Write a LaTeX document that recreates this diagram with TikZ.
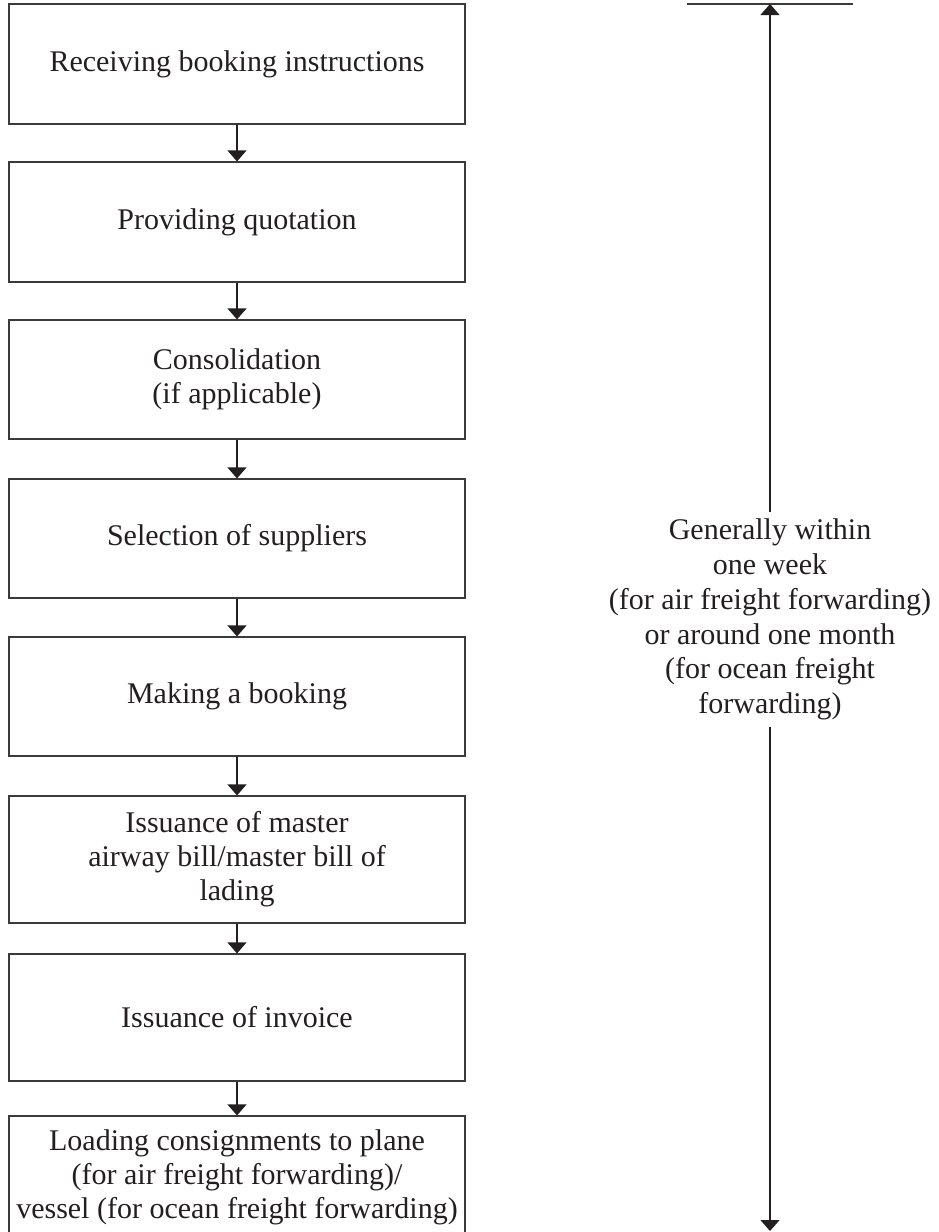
\documentclass[tikz,border=0pt]{standalone}
\usepackage{fontspec}
\setmainfont{Liberation Serif}
\usetikzlibrary{arrows.meta}
\definecolor{ink}{HTML}{231F20}
\definecolor{edge}{HTML}{3A3A3A}
\tikzset{
  box/.style={draw=edge, line width=0.6pt, minimum width=228pt, inner sep=0pt,
    align=center, text=ink, font=\fontsize{15}{17}\selectfont},
  flow/.style={draw=ink, line width=0.6pt, -{Triangle[width=9.5pt,length=5.5pt]}},
  note/.style={align=center, text=ink, inner sep=0pt, minimum height=107.5pt,
    font=\fontsize{15}{17.4}\selectfont},
}
\begin{document}
\begin{tikzpicture}[x=0.5pt,y=-0.5pt]
\useasboundingbox (0,0) rectangle (938,1232);
\clip (0,0) rectangle (938,1232);
\node[box, minimum height=60pt] (b1) at (237,64) {Receiving booking instructions};
\node[box, minimum height=60pt] (b2) at (237,222) {Providing quotation};
\node[box, minimum height=59.5pt] (b3) at (237,379.5) {Consolidation\\(if applicable)};
\node[box, minimum height=59.5pt] (b4) at (237,538.5) {Selection of suppliers};
\node[box, minimum height=59.5pt] (b5) at (237,696.5) {Making a booking};
\node[box, minimum height=63.5pt] (b6) at (237,859.5) {Issuance of master\\airway bill/master bill of\\lading};
\node[box, minimum height=63.5pt] (b7) at (237,1017.5) {Issuance of invoice};
\node[box, minimum height=61pt] (b8) at (237,1177) {Loading consignments to plane\\(for air freight forwarding)/\\vessel (for ocean freight forwarding)};
\draw[flow] (b1) -- (b2);
\draw[flow] (b2) -- (b3);
\draw[flow] (b3) -- (b4);
\draw[flow] (b4) -- (b5);
\draw[flow] (b5) -- (b6);
\draw[flow] (b6) -- (b7);
\draw[flow] (b7) -- (b8);
\coordinate (hl) at (687,4);
\coordinate (hr) at (853,4);
\coordinate (topc) at (770,4);
\coordinate (botc) at (770,1231);
\draw[draw=edge, line width=0.6pt] (hl) -- (hr);
\node[note] (lab) at (770,619.5) {Generally within\\one week\\(for air freight forwarding)\\or around one month\\(for ocean freight\\forwarding)};
\draw[flow] (lab.north) -- (topc);
\draw[flow] (lab.south) -- (botc);
\end{tikzpicture}
\end{document}
